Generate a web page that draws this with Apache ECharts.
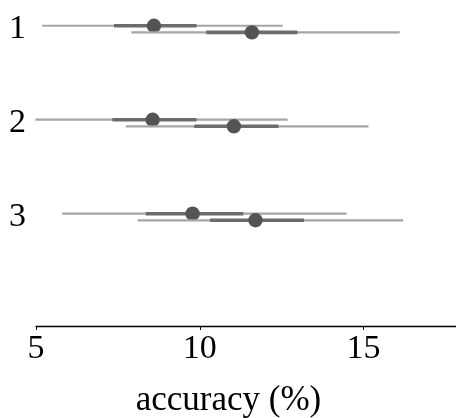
<!DOCTYPE html>
<html>
<head>
<meta charset="utf-8">
<script src="https://cdn.jsdelivr.net/npm/echarts@6/dist/echarts.min.js"></script>
<style>
  html, body { margin: 0; padding: 0; background: #fff; }
  #chart { width: 456px; height: 418px; }
</style>
</head>
<body>
<div id="chart"></div>
<script>
// Rows of the plot (one per setting)
const groups = [1, 2, 3];
const tickLabels = ['5', '10', '15'];

// Upper interval in each row
const upperLow    = [5.19, 4.98, 5.80];
const upperQ1     = [7.38, 7.33, 8.35];
const upperMedian = [8.60, 8.56, 9.78];
const upperQ3     = [9.90, 9.90, 11.33];
const upperHigh   = [12.53, 12.68, 14.48];

// Lower interval in each row
const lowerLow    = [7.91, 7.74, 8.10];
const lowerQ1     = [10.20, 9.83, 10.31];
const lowerMedian = [11.59, 11.04, 11.70];
const lowerQ3     = [12.98, 12.40, 13.18];
const lowerHigh   = [16.10, 15.15, 16.21];

const rowShift = 0.035;

function buildRows(low, q1, med, q3, high, shift) {
  return groups.map((g, i) => [low[i], q1[i], med[i], q3[i], high[i], g + shift]);
}

function renderInterval(params, api) {
  const y = api.value(5);
  const pLow = api.coord([api.value(0), y]);
  const pQ1 = api.coord([api.value(1), y]);
  const pMed = api.coord([api.value(2), y]);
  const pQ3 = api.coord([api.value(3), y]);
  const pHigh = api.coord([api.value(4), y]);
  return {
    type: 'group',
    children: [
      {
        type: 'line',
        shape: { x1: pLow[0], y1: pLow[1], x2: pHigh[0], y2: pHigh[1] },
        style: { stroke: '#a4a4a4', lineWidth: 2.2 }
      },
      {
        type: 'line',
        shape: { x1: pQ1[0], y1: pQ1[1], x2: pQ3[0], y2: pQ3[1] },
        style: { stroke: '#6c6c6c', lineWidth: 3.6 }
      },
      {
        type: 'circle',
        shape: { cx: pMed[0], cy: pMed[1], r: 7.2 },
        style: { fill: '#545454' }
      }
    ]
  };
}

const serif = '"Liberation Serif", "DejaVu Serif", serif';

const chart = echarts.init(document.getElementById('chart'), null, { renderer: 'canvas' });
chart.setOption({
  animation: false,
  backgroundColor: '#ffffff',
  grid: { left: 36, right: 0, top: 0, bottom: 92, containLabel: false, outerBoundsMode: 'none' },
  xAxis: {
    type: 'value',
    min: 5,
    max: 17.82,
    interval: 5,
    name: 'accuracy (%)',
    nameLocation: 'middle',
    nameGap: 57,
    nameTextStyle: { fontFamily: serif, fontSize: 35, color: '#000', padding: [0, 35, 0, 0] },
    axisLine: { show: true, lineStyle: { color: '#000', width: 1.3 } },
    axisTick: { show: true, inside: false, length: 4, lineStyle: { color: '#000', width: 1 } },
    splitLine: { show: false },
    axisLabel: {
      fontFamily: serif,
      fontSize: 34,
      color: '#000',
      margin: 6,
      showMaxLabel: false,
      formatter: (v) => (tickLabels.includes(String(v)) ? String(v) : '')
    }
  },
  yAxis: {
    type: 'value',
    inverse: true,
    min: 0.691,
    max: 4.16,
    axisLine: { show: false },
    axisTick: { show: false },
    splitLine: { show: false },
    axisLabel: {
      customValues: groups,
      fontFamily: serif,
      fontSize: 34,
      color: '#000',
      margin: 10,
      formatter: (v) => String(v)
    }
  },
  series: [
    {
      type: 'custom',
      renderItem: renderInterval,
      encode: { x: [0, 1, 2, 3, 4], y: 5 },
      data: buildRows(upperLow, upperQ1, upperMedian, upperQ3, upperHigh, -rowShift),
      z: 2
    },
    {
      type: 'custom',
      renderItem: renderInterval,
      encode: { x: [0, 1, 2, 3, 4], y: 5 },
      data: buildRows(lowerLow, lowerQ1, lowerMedian, lowerQ3, lowerHigh, rowShift),
      z: 3
    }
  ]
});
</script>
</body>
</html>
